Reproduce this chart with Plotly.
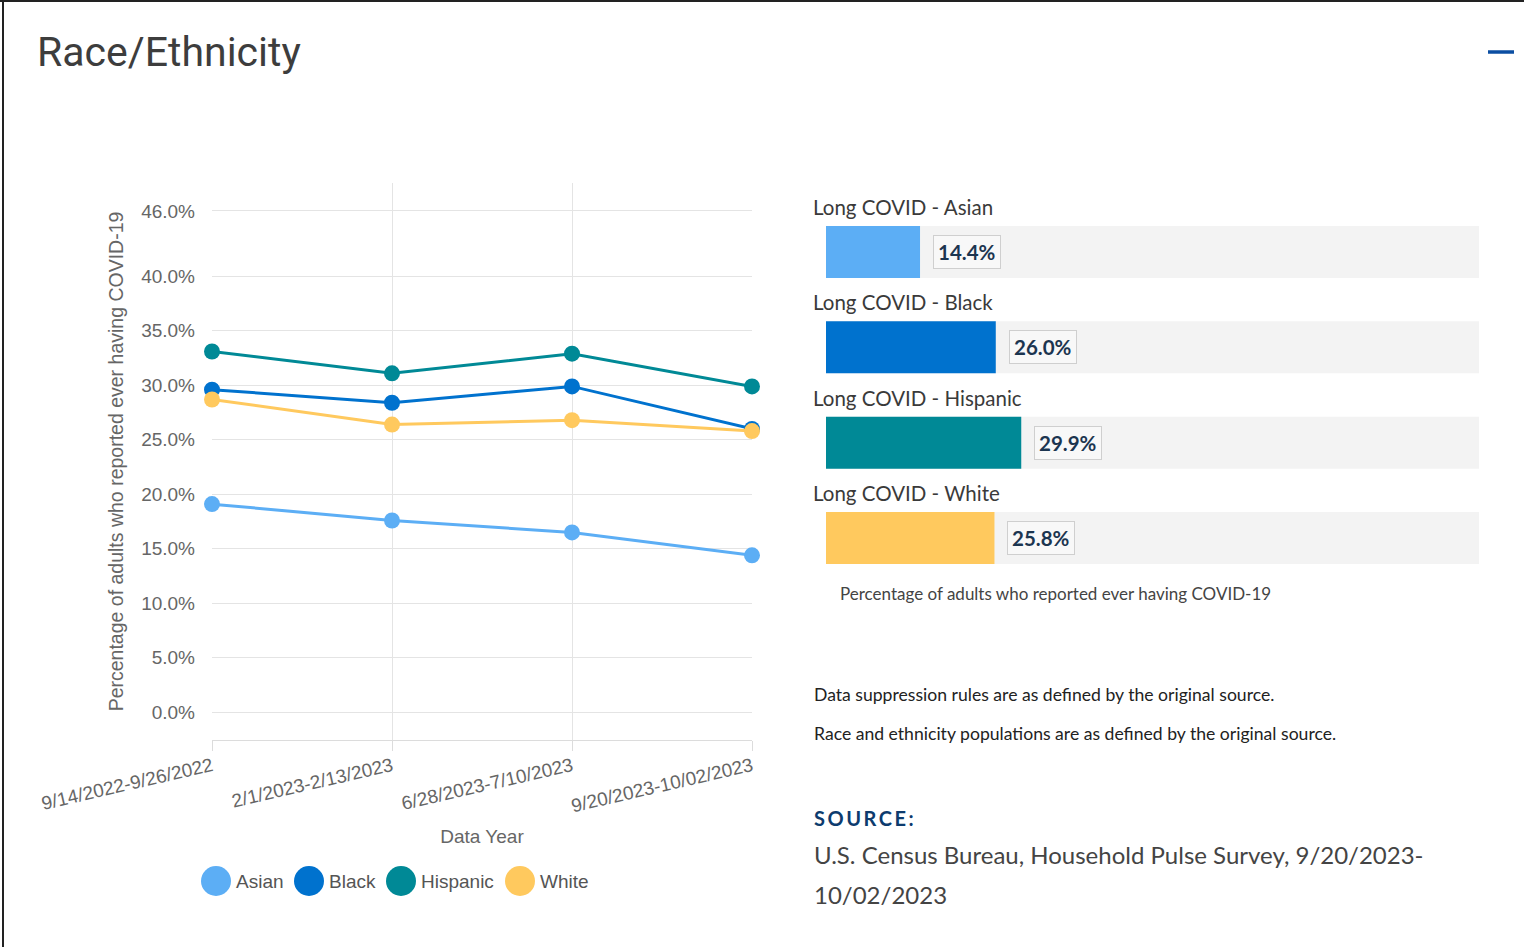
import plotly.graph_objects as go

W, H = 1524, 947

# ---------------- data ----------------
periods = ["9/14/2022-9/26/2022", "2/1/2023-2/13/2023", "6/28/2023-7/10/2023", "9/20/2023-10/02/2023"]
groups = ["Asian", "Black", "Hispanic", "White"]
asian = [19.1, 17.6, 16.5, 14.4]
black = [29.6, 28.4, 29.9, 26.0]
hispanic = [33.1, 31.1, 32.9, 29.9]
white = [28.7, 26.4, 26.8, 25.8]
latest = [14.4, 26.0, 29.9, 25.8]
bar_labels = ["Long COVID - Asian", "Long COVID - Black", "Long COVID - Hispanic", "Long COVID - White"]
ytick_vals = [0, 5, 10, 15, 20, 25, 30, 35, 40, 46]
ytick_text = ["0.0%", "5.0%", "10.0%", "15.0%", "20.0%", "25.0%", "30.0%", "35.0%", "40.0%", "46.0%"]
scale_max = [100, 100, 100, 100]

colors = ["#5caef5", "#0072ce", "#008996", "#ffc95e"]
series = [asian, black, hispanic, white]


def px(x):
    return x / W


def py(y):
    return 1 - y / H


fig = go.Figure()

# ---------------- line chart ----------------
for name, vals, c in zip(groups, series, colors):
    fig.add_trace(go.Scatter(
        x=periods, y=vals, name=name, mode="lines+markers",
        line=dict(color=c, width=3), marker=dict(color=c, size=16),
        cliponaxis=False, showlegend=False, hoverinfo="skip",
        xaxis="x", yaxis="y"))

# ---------------- bar panel ----------------
rows = list(range(len(groups)))
fig.add_trace(go.Bar(
    x=scale_max, y=rows, orientation="h", marker=dict(color="#f3f3f3", line=dict(width=0)),
    width=0.545, showlegend=False, hoverinfo="skip", xaxis="x2", yaxis="y2"))
fig.add_trace(go.Bar(
    x=latest, y=rows, orientation="h", marker=dict(color=colors, line=dict(width=0)),
    width=0.545, showlegend=False, hoverinfo="skip", xaxis="x2", yaxis="y2"))

annotations = []
for i, (lab, v) in enumerate(zip(bar_labels, latest)):
    annotations.append(dict(
        x=0, y=i, xref="x2", yref="y2", text=lab, showarrow=False,
        xanchor="left", yanchor="middle", xshift=-15, yshift=45,
        font=dict(family="Lato", size=20.5, color="#3a3a3a")))
    annotations.append(dict(
        x=v, y=i, xref="x2", yref="y2", text="<b>%.1f%%</b>" % v, showarrow=False,
        xanchor="left", yanchor="middle", xshift=13, yshift=0,
        bgcolor="#f8f8f8", bordercolor="#cfcfcf", borderwidth=1, borderpad=4,
        font=dict(family="Lato", size=20.5, color="#1c3550")))

# title & misc text
annotations += [
    dict(x=px(35), y=py(52), xref="paper", yref="paper", text="Race/Ethnicity", showarrow=False,
         xanchor="left", yanchor="middle", font=dict(family="Roboto", size=41, color="#3d3d3d")),
    dict(x=px(838), y=py(593), xref="paper", yref="paper",
         text="Percentage of adults who reported ever having COVID-19", showarrow=False,
         xanchor="left", yanchor="middle", font=dict(family="Lato", size=17, color="#444444")),
    dict(x=px(812), y=py(694), xref="paper", yref="paper",
         text="Data suppression rules are as defined by the original source.", showarrow=False,
         xanchor="left", yanchor="middle", font=dict(family="Lato", size=17.6, color="#222222")),
    dict(x=px(812), y=py(733), xref="paper", yref="paper",
         text="Race and ethnicity populations are as defined by the original source.", showarrow=False,
         xanchor="left", yanchor="middle", font=dict(family="Lato", size=17.6, color="#222222")),
    dict(x=px(812), y=py(818), xref="paper", yref="paper",
         text="<b>S\u2009O\u2009U\u2009R\u2009C\u2009E\u2009:</b>", showarrow=False,
         xanchor="left", yanchor="middle", font=dict(family="Lato", size=20, color="#0d3b6e")),
    dict(x=px(812), y=py(854), xref="paper", yref="paper",
         text="U.S. Census Bureau, Household Pulse Survey, 9/20/2023-", showarrow=False,
         xanchor="left", yanchor="middle", font=dict(family="Lato", size=24, color="#444444")),
    dict(x=px(812), y=py(894), xref="paper", yref="paper",
         text="10/02/2023", showarrow=False,
         xanchor="left", yanchor="middle", font=dict(family="Lato", size=24, color="#444444")),
]

# custom legend (large circles)
legend_x = [201, 294, 386, 505]
shapes = []
for name, c, lx in zip(groups, colors, legend_x):
    shapes.append(dict(type="circle", xref="paper", yref="paper",
                       x0=px(lx), x1=px(lx + 30), y0=py(896), y1=py(866),
                       fillcolor=c, line=dict(width=0)))
    annotations.append(dict(x=px(lx + 33), y=py(881), xref="paper", yref="paper", text=name,
                            showarrow=False, xanchor="left", yanchor="middle",
                            font=dict(family="Liberation Sans", size=19, color="#555555")))

# page border + collapse dash
shapes += [
    dict(type="line", xref="paper", yref="paper", x0=px(3), x1=px(3), y0=0, y1=1,
         line=dict(color="#222222", width=2)),
    dict(type="line", xref="paper", yref="paper", x0=0, x1=1, y0=py(1), y1=py(1),
         line=dict(color="#222222", width=2)),
    dict(type="line", xref="paper", yref="paper", x0=px(1488), x1=px(1514), y0=py(52), y1=py(52),
         line=dict(color="#0b4ea2", width=3.5)),
]

fig.update_layout(
    width=W, height=H, margin=dict(l=0, r=0, t=0, b=0, autoexpand=False),
    paper_bgcolor="white", plot_bgcolor="white",
    font=dict(family="Liberation Sans", color="#666666"),
    barmode="overlay", showlegend=False,
    xaxis=dict(domain=[px(212), px(752)], type="category", range=[0, 3], automargin=False,
               showgrid=True, gridcolor="#e4e4e4", gridwidth=1,
               showline=True, linecolor="#dcdcdc", linewidth=1,
               ticks="outside", ticklen=10, tickcolor="#dcdcdc", ticklabelstandoff=-3,
               tickangle=-13, tickfont=dict(size=19, color="#666666"),
               title=dict(text="Data Year", font=dict(size=19, color="#666666"), standoff=14),
               zeroline=False, fixedrange=True),
    yaxis=dict(domain=[py(740), py(183)], range=[-2.54, 48.56], automargin=False,
               tickvals=ytick_vals, ticktext=ytick_text,
               showgrid=True, gridcolor="#e4e4e4", gridwidth=1, zeroline=False,
               ticks="", ticklabelstandoff=16, tickfont=dict(size=19, color="#666666"),
               title=dict(text="Percentage of adults who reported ever having COVID-19",
                          font=dict(size=19.5, color="#666666"), standoff=12),
               fixedrange=True),
    xaxis2=dict(domain=[px(826), px(1479)], range=[0, 100], visible=False, anchor="y2",
                automargin=False, fixedrange=True),
    yaxis2=dict(domain=[py(585.7), py(204.3)], range=[3.5, -0.5], visible=False, anchor="x2",
                automargin=False, fixedrange=True),
    annotations=annotations, shapes=shapes,
)

fig.write_html("out.html", config={"displayModeBar": False},
               post_script="document.body.style.margin='0';")
